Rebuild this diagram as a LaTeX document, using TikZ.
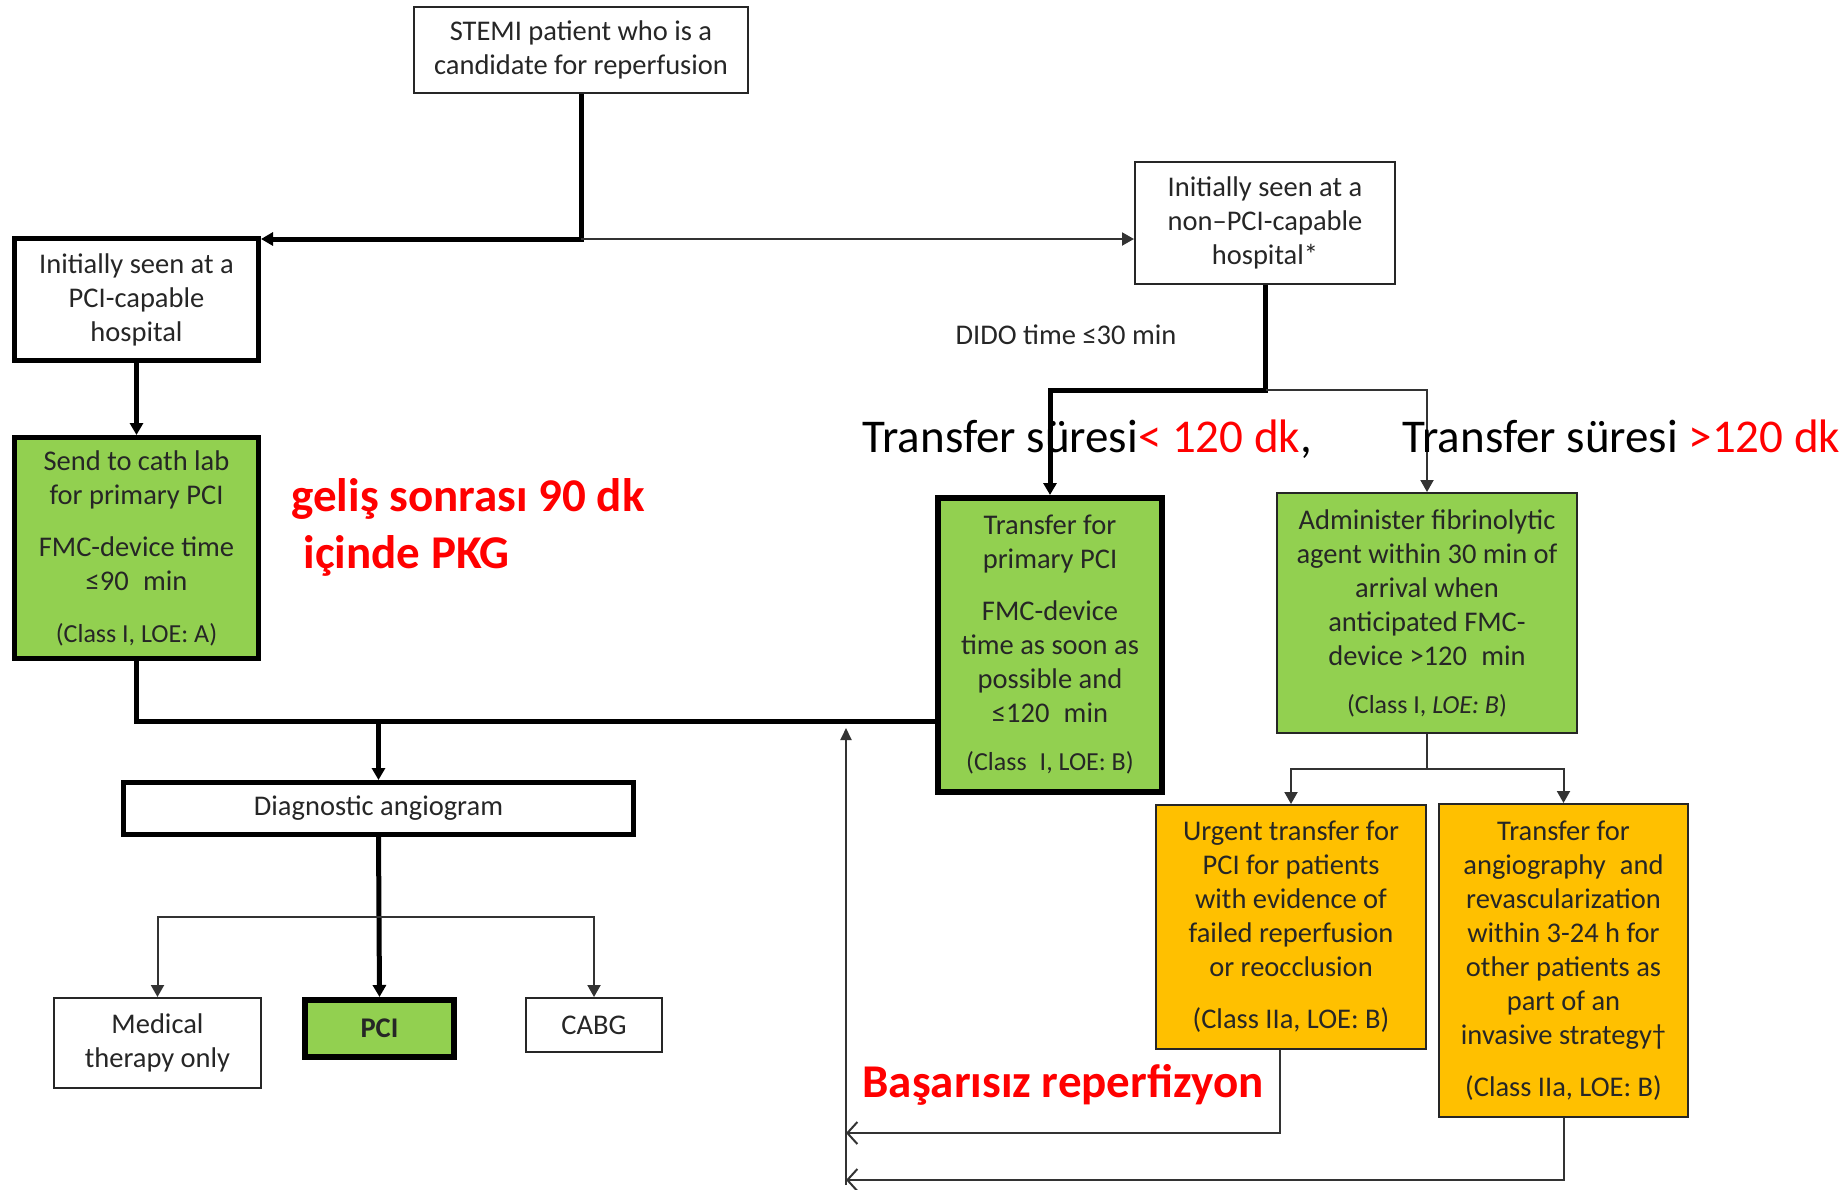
\documentclass[tikz,border=0pt]{standalone}
\usepackage{fontspec}
\setmainfont{Carlito}
\usetikzlibrary{arrows.meta}
\definecolor{grn}{HTML}{92D050}
\definecolor{org}{HTML}{FFC000}
\definecolor{txt}{HTML}{262626}
\definecolor{rd}{HTML}{FF0000}
\newcommand\bxf{\fontsize{28.5}{34}\selectfont}
\newcommand\clsf{\fontsize{26}{34}\selectfont}
\newcommand\bigf{\fontsize{47}{57}\selectfont}
\tikzset{
 box/.style={draw=black!85, line width=2pt, align=center, inner sep=0pt, font=\bxf, text=txt},
 heavy/.style={box, draw=black, line width=5pt},
 gfill/.style={fill=grn},
 ofill/.style={fill=org},
 thk/.style={line width=5pt, draw=black},
 thn/.style={line width=2pt, draw=black!80},
 tip/.style={-{Triangle[length=12pt,width=13pt]}},
 barb/.style={-{Straight Barb[length=10pt,width=22pt]}},
 note/.style={anchor=base west, font=\bigf, text=black},
 rednote/.style={anchor=base west, font=\bigf\bfseries, text=rd},
 smallnote/.style={font=\bxf, text=txt},
}
\begin{document}
\begin{tikzpicture}[x=1pt,y=-1pt]
\useasboundingbox (0,0) rectangle (1844,1189);
\fill[white] (0,0) rectangle (1844,1189);

% boxes
\node[box, minimum width=334pt, minimum height=86pt] (stemi) at (581,50) {STEMI patient who is a\\candidate for reperfusion};
\node[heavy, minimum width=244pt, minimum height=122pt] (pcic) at (136.5,299.5) {Initially seen at a\\PCI-capable\\hospital};
\node[box, minimum width=260pt, minimum height=122pt] (nonpci) at (1265,223) {Initially seen at a\\non–PCI-capable\\hospital*};
\node[heavy, gfill, minimum width=244pt, minimum height=221pt] (g1) at (136.5,548) {Send to cath lab\\for primary PCI\\[18pt]FMC-device time\\≤90\enspace min\\[18pt]{\clsf (Class I, LOE: A)}};
\node[heavy, gfill, line width=6pt, minimum width=224pt, minimum height=294pt] (tr) at (1050,645) {Transfer for\\primary PCI\\[18pt]FMC-device\\time as soon as\\possible and\\≤120\enspace min\\[14pt]{\clsf (Class\enspace I, LOE: B)}};
\node[box, gfill, minimum width=300pt, minimum height=240pt] (adm) at (1427,613) {Administer fibrinolytic\\agent within 30 min of\\arrival when\\anticipated FMC-\\device >120\enspace min\\[14pt]{\clsf (Class I, \textit{LOE: B})}};
\node[heavy, minimum width=510pt, minimum height=52pt] (diag) at (378.5,808.5) {Diagnostic angiogram};
\node[box, minimum width=207pt, minimum height=90pt] (med) at (157.5,1043) {Medical\\therapy only};
\node[heavy, gfill, line width=6pt, minimum width=149pt, minimum height=57pt] (pci) at (379.5,1028.5) {\textbf{PCI}};
\node[box, minimum width=136pt, minimum height=54pt] (cabg) at (594,1025) {CABG};
\node[box, ofill, minimum width=270pt, minimum height=244pt] (urg) at (1291,927) {Urgent transfer for\\PCI for patients\\with evidence of\\failed reperfusion\\or reocclusion\\[18pt](Class IIa, LOE: B)};
\node[box, ofill, minimum width=249pt, minimum height=313pt] (ang) at (1563.5,960.5) {Transfer for\\angiography\enspace and\\revascularization\\within 3-24 h for\\other patients as\\part of an\\invasive strategy†\\[18pt](Class IIa, LOE: B)};

% junctions
\coordinate (j1) at (581,239);
\coordinate (j2) at (138,721);
\coordinate (j3) at (380,917);
\coordinate (j4) at (1266,390);
\coordinate (j5) at (1427,769);
\coordinate (r0) at (846,1185);
\coordinate (rt) at (846,728);
\coordinate (r1) at (846,1133);
\coordinate (r2) at (846,1180);

% connectors
\draw[thk, tip] (stemi.south) -- (j1) -- (j1 -| pcic.east);
\draw[thn, tip] (j1) -- (j1 -| nonpci.west);
\draw[thk, tip] (pcic.south) -- (g1.north);
\draw[thk] (g1.south) |- (j2 -| tr.west);
\draw[thk, tip] (diag.north |- j2) -- (diag.north);
\draw[thk, tip] (diag.south) -- (pci.north);
\draw[thn, tip] (j3) -| (med.north);
\draw[thn, tip] (j3) -| (cabg.north);
\draw[thk, tip] (nonpci.south) |- (tr.north |- j4) -- (tr.north);
\draw[thn, tip] (j4) -| (adm.north);
\draw[thn] (adm.south) -- (j5);
\draw[thn, tip] (j5) -| (urg.north);
\draw[thn, tip] (j5) -| (ang.north);
\draw[thn, barb] ([xshift=-11pt]urg.south) |- (r1);
\draw[thn, barb] (ang.south) |- (r2);
\draw[thn, -{Triangle[length=12pt,width=11pt]}] (r0) -- (rt);

% labels
\node[smallnote] (dido) at (1066,335) {DIDO time ≤30 min};
\node[note] (t1) at (859,452) {Transfer süresi\textcolor{rd}{< 120 dk},};
\node[note] (t2) at (1399,452) {Transfer süresi \textcolor{rd}{>120 dk}};
\node[rednote] (r1t) at (288,511) {geliş sonrası 90 dk};
\node[rednote] (r2t) at (300,568) {içinde PKG};
\node[rednote] (r3t) at (859,1097) {Başarısız reperfizyon};
\end{tikzpicture}
\end{document}
